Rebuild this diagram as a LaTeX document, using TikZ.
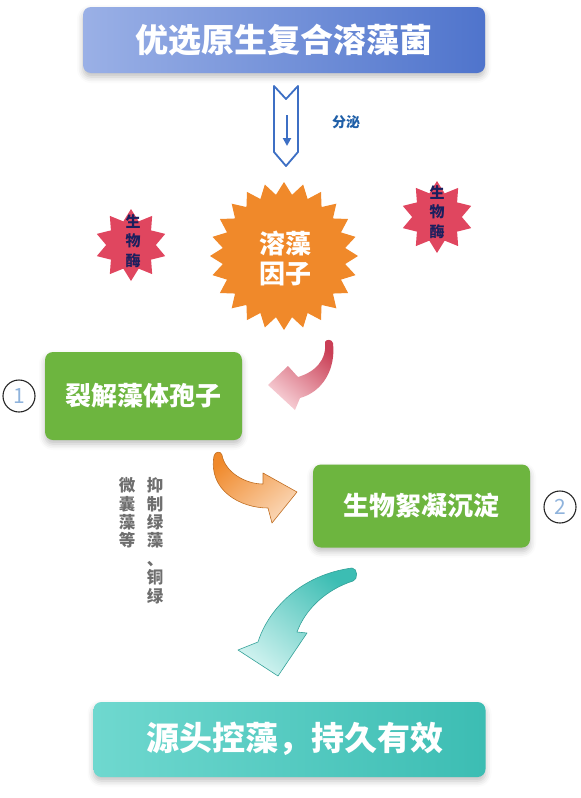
\documentclass[tikz,border=0pt]{standalone}
\usepackage{fontspec}
\newfontfamily\cjk{Noto Sans CJK SC}
\usetikzlibrary{shapes.geometric,shadows.blur,arrows.meta}
\newcommand\fsz[2]{\fontsize{#1}{#2}\selectfont}
\definecolor{blueL}{HTML}{9AB0E6}
\definecolor{blueR}{HTML}{4F74CC}
\definecolor{chevC}{HTML}{3D6FC4}
\definecolor{secC}{HTML}{1F5FA8}
\definecolor{orangeC}{HTML}{F0892A}
\definecolor{redS}{HTML}{E0465F}
\definecolor{navyC}{HTML}{1B1F5E}
\definecolor{greenC}{HTML}{6DB53F}
\definecolor{tealL}{HTML}{6FD8CF}
\definecolor{tealR}{HTML}{3CBDB3}
\definecolor{grayT}{HTML}{6E6E6E}
\definecolor{digitC}{HTML}{8FB3DC}
\tikzset{
  box/.style={rounded corners=8pt, inner sep=0pt,
    blur shadow={shadow xshift=0pt, shadow yshift=-4pt, shadow blur radius=6pt, shadow opacity=25}},
  boxtext/.style={text=white, font=\cjk\bfseries},
  numcirc/.style={circle, draw=black!85, line width=1.1pt, minimum size=32pt, inner sep=0pt,
    text=digitC, font=\cjk\fsz{21}{21}},
  enz/.style={star, star points=10, star point ratio=1.45, minimum size=72pt, fill=redS, inner sep=0pt},
  enztext/.style={text=navyC, font=\cjk\bfseries\fsz{15}{19.5}, align=center},
  vtext/.style={text=grayT, font=\cjk\bfseries\fsz{16.5}{18.4}, align=center, anchor=north}
}
\begin{document}
\begin{tikzpicture}[x=1pt,y=-1pt]
\useasboundingbox (0,0) rectangle (581,798);
% top box
\node[box, minimum width=402pt, minimum height=66pt, left color=blueL, right color=blueR] (top) at (284,40) {};
\node[boxtext, font=\cjk\bfseries\fsz{33}{33}] (toptext) at (top) {优选原生复合溶藻菌};
% chevron arrow
\draw[fill=white, draw=chevC, line width=1.8pt, line join=round] (274,86) -- (286,99) -- (298,86) -- (298,152) -- (286,166) -- (274,152) -- cycle;
\draw[chevC, line width=2pt, -{Triangle[length=8pt,width=8pt]}] (287,115) -- (287,146);
\node[text=secC, font=\cjk\bfseries\fsz{14}{14}] (sec) at (346,122) {分泌};
% orange star
\node[star, star points=24, star point ratio=1.2, minimum size=148pt, fill=orangeC, inner sep=0pt] (sun) at (284,256) {};
\node[text=white, font=\cjk\bfseries\fsz{26}{30}, align=center] (suntext) at (285,258) {溶藻\\因子};
% enzymes
\node[enz] (e1) at (131,245) {};
\node[enztext] (e1t) at (133,241) {生\\物\\酶};
\node[enz] (e2) at (437,217) {};
\node[enztext] (e2t) at (437,212) {生\\物\\酶};
% green box 1
\node[box, minimum width=197pt, minimum height=88pt, fill=greenC] (g1) at (143.5,396) {};
\node[boxtext, font=\cjk\bfseries\fsz{26}{26}] (g1t) at (g1) {裂解藻体孢子};
\node[numcirc] (c1) at (19,396) {1};
% red curved arrow
\shade[top color=redS!90!black, bottom color=redS!25, shading angle=-40]
  (325,342) .. controls (327,360) and (315,372) .. (298,377) -- (288,366) -- (268,385) -- (295,410) -- (300,398)
  .. controls (322,392) and (336,370) .. (333,343) .. controls (332,339) and (326,339) .. (325,342) -- cycle;
% orange curved arrow
\shade[draw=orangeC!80!black, line width=0.6pt, top color=orangeC, bottom color=orangeC!35, shading angle=40, line join=round]
  (214,456) .. controls (208,490) and (240,508) .. (268,508) -- (272,523) -- (297,492) -- (263,473) -- (263,484)
  .. controls (245,484) and (225,472) .. (222,455) .. controls (221,451) and (215,451) .. (214,456) -- cycle;
% vertical text
\node[vtext] (v1) at (155,474) {抑\\制\\绿\\藻\\、\\铜\\绿};
\node[vtext] (v2) at (127,474) {微\\囊\\藻\\等};
% green box 2
\node[box, minimum width=217pt, minimum height=83pt, fill=greenC] (g2) at (421.5,506) {};
\node[boxtext, font=\cjk\bfseries\fsz{26}{26}] (g2t) at (g2) {生物絮凝沉淀};
\node[numcirc] (c2) at (560,507) {2};
% teal curved arrow
\shade[draw=tealR!85!black, line width=0.6pt, top color=tealR, bottom color=tealL!35, shading angle=-40, line join=round]
  (352,568) .. controls (300,575) and (268,610) .. (258,642) -- (238,650) -- (278,676) -- (307,633) -- (297,632)
  .. controls (305,610) and (325,590) .. (353,581) .. controls (358,580) and (358,568) .. (352,568) -- cycle;
% bottom box
\node[box, minimum width=392pt, minimum height=75pt, left color=tealL, right color=tealR] (bot) at (289.5,739.5) {};
\node[boxtext, font=\cjk\bfseries\fsz{33}{33}] (bott) at (295,739) {源头控藻，持久有效};
\end{tikzpicture}
\end{document}
